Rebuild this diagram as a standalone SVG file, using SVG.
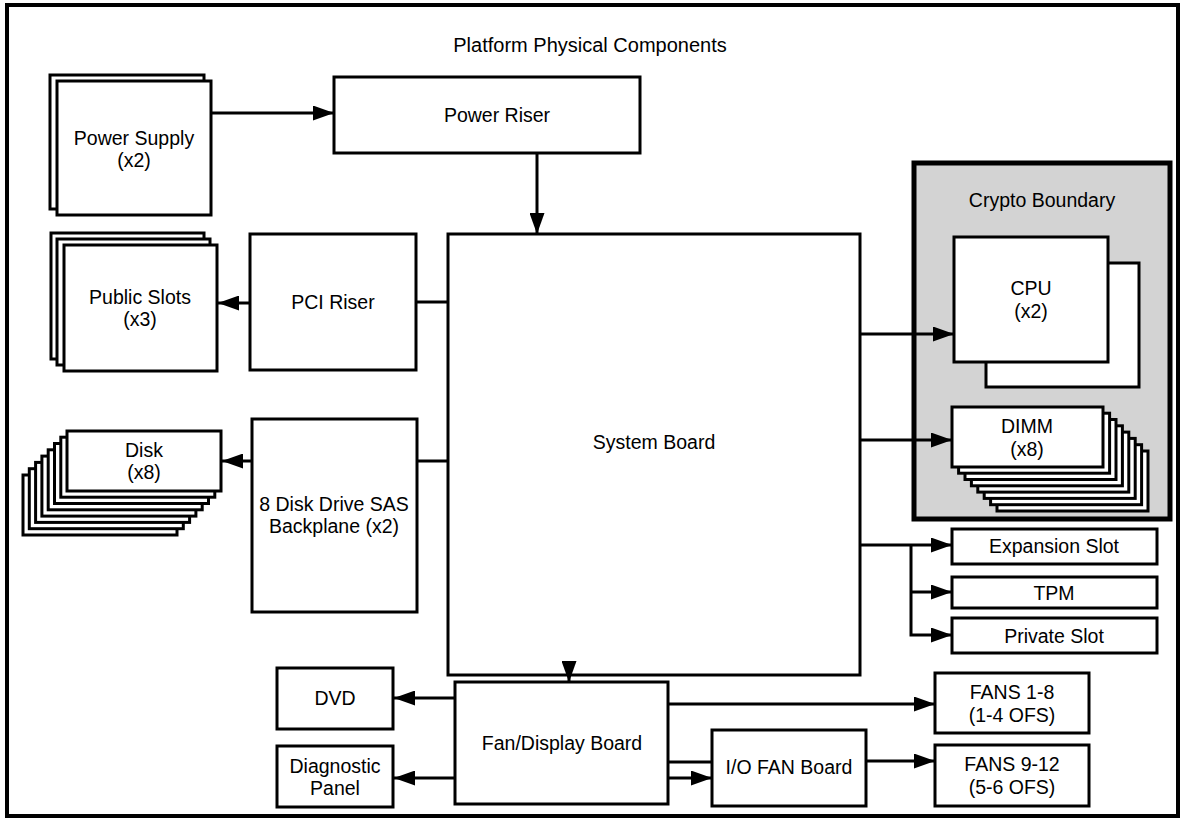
<svg xmlns="http://www.w3.org/2000/svg" width="1182" height="821" viewBox="0 0 1182 821">
<style>
.box{fill:#fff;stroke:#000;stroke-width:3}
.t{font-family:"Liberation Sans",Arial,sans-serif;font-size:19.5px;fill:#000;text-anchor:middle}
.c{fill:none;stroke:#000;stroke-width:3}
</style>
<defs>
<marker id="ah" markerUnits="userSpaceOnUse" markerWidth="21" markerHeight="15" refX="21" refY="7.5" orient="auto">
<path d="M0,0 L21,7.5 L0,15 z" fill="#000"/>
</marker>
</defs>
<rect x="0" y="0" width="1182" height="821" fill="#fff"/>
<rect x="7" y="5" width="1171" height="811" fill="#fff" stroke="#000" stroke-width="4"/>
<text class="t" x="590" y="52" style="font-size:20px">Platform Physical Components</text>

<g id="crypto-boundary">
<rect x="914" y="163" width="256" height="356" fill="#d3d3d3" stroke="#000" stroke-width="5"/>
<text class="t" x="1042" y="207">Crypto Boundary</text>
</g>

<g id="power-supply">
<rect class="box" x="50" y="75" width="154" height="134"/>
<rect class="box" x="57" y="81" width="154" height="134"/>
<text class="t" x="134" y="145">Power Supply</text>
<text class="t" x="134" y="167">(x2)</text>
</g>

<g id="power-riser">
<rect class="box" x="334" y="77" width="306" height="76"/>
<text class="t" x="497" y="122">Power Riser</text>
</g>

<g id="public-slots">
<rect class="box" x="51" y="233" width="153" height="126"/>
<rect class="box" x="57" y="239" width="153" height="126"/>
<rect class="box" x="64" y="245" width="153" height="126"/>
<text class="t" x="140" y="304">Public Slots</text>
<text class="t" x="140" y="326">(x3)</text>
</g>

<g id="pci-riser">
<rect class="box" x="250" y="234" width="166" height="136"/>
<text class="t" x="333" y="309">PCI Riser</text>
</g>

<g id="disk">
<rect class="box" x="23" y="475" width="154" height="60"/>
<rect class="box" x="29.3" y="468.7" width="154" height="60"/>
<rect class="box" x="35.6" y="462.4" width="154" height="60"/>
<rect class="box" x="41.9" y="456.1" width="154" height="60"/>
<rect class="box" x="48.2" y="449.8" width="154" height="60"/>
<rect class="box" x="54.5" y="443.5" width="154" height="60"/>
<rect class="box" x="60.8" y="437.2" width="154" height="60"/>
<rect class="box" x="67" y="431" width="154" height="60"/>
<text class="t" x="144" y="457">Disk</text>
<text class="t" x="144" y="479">(x8)</text>
</g>

<g id="backplane">
<rect class="box" x="252" y="419" width="165" height="193"/>
<text class="t" x="334" y="511">8 Disk Drive SAS</text>
<text class="t" x="334" y="533">Backplane (x2)</text>
</g>

<g id="system-board">
<rect class="box" x="448" y="234" width="412" height="441"/>
<text class="t" x="654" y="449">System Board</text>
</g>

<g id="cpu">
<rect class="box" x="986" y="263" width="153" height="124"/>
<rect class="box" x="954" y="237" width="154" height="125"/>
<text class="t" x="1031" y="295">CPU</text>
<text class="t" x="1031" y="318">(x2)</text>
</g>

<g id="dimm">
<rect class="box" x="997" y="451" width="151" height="60"/>
<rect class="box" x="990.6" y="444.7" width="151" height="60"/>
<rect class="box" x="984.2" y="438.4" width="151" height="60"/>
<rect class="box" x="977.8" y="432.1" width="151" height="60"/>
<rect class="box" x="971.4" y="425.8" width="151" height="60"/>
<rect class="box" x="965" y="419.5" width="151" height="60"/>
<rect class="box" x="958.6" y="413.2" width="151" height="60"/>
<rect class="box" x="952" y="407" width="151" height="60"/>
<text class="t" x="1027" y="433">DIMM</text>
<text class="t" x="1027" y="456">(x8)</text>
</g>

<g id="expansion-slot">
<rect class="box" x="952" y="529" width="205" height="35"/>
<text class="t" x="1054" y="553">Expansion Slot</text>
</g>
<g id="tpm">
<rect class="box" x="952" y="577" width="205" height="31"/>
<text class="t" x="1054" y="600">TPM</text>
</g>
<g id="private-slot">
<rect class="box" x="952" y="618" width="205" height="35"/>
<text class="t" x="1054" y="643">Private Slot</text>
</g>

<g id="dvd">
<rect class="box" x="277" y="668" width="116" height="61"/>
<text class="t" x="335" y="705">DVD</text>
</g>
<g id="diagnostic-panel">
<rect class="box" x="277" y="746" width="116" height="61"/>
<text class="t" x="335" y="773">Diagnostic</text>
<text class="t" x="335" y="795">Panel</text>
</g>

<g id="fan-display-board">
<rect class="box" x="455" y="682" width="213" height="122"/>
<text class="t" x="562" y="750">Fan/Display Board</text>
</g>

<g id="io-fan-board">
<rect class="box" x="712" y="730" width="154" height="76"/>
<text class="t" x="789" y="774">I/O FAN Board</text>
</g>

<g id="fans-1-8">
<rect class="box" x="935" y="673" width="154" height="60"/>
<text class="t" x="1012" y="699">FANS 1-8</text>
<text class="t" x="1012" y="722">(1-4 OFS)</text>
</g>
<g id="fans-9-12">
<rect class="box" x="935" y="745" width="154" height="61"/>
<text class="t" x="1012" y="771">FANS 9-12</text>
<text class="t" x="1012" y="794">(5-6 OFS)</text>
</g>

<g id="connectors">
<path class="c" d="M212,113 H334" marker-end="url(#ah)"/>
<path class="c" d="M537,153 V234" marker-end="url(#ah)"/>
<path class="c" d="M250,303 H218" marker-end="url(#ah)"/>
<path class="c" d="M416,302 H448"/>
<path class="c" d="M252,461 H222" marker-end="url(#ah)"/>
<path class="c" d="M417,461 H448"/>
<path class="c" d="M860,334 H954" marker-end="url(#ah)"/>
<path class="c" d="M860,440 H952" marker-end="url(#ah)"/>
<path class="c" d="M860,545 H952" marker-end="url(#ah)"/>
<path class="c" d="M911,545 V635 H952" marker-end="url(#ah)"/>
<path class="c" d="M911,592 H952" marker-end="url(#ah)"/>
<path class="c" d="M569,675 V682" marker-end="url(#ah)"/>
<path class="c" d="M455,698 H394" marker-end="url(#ah)"/>
<path class="c" d="M455,778 H394" marker-end="url(#ah)"/>
<path class="c" d="M668,704 H935" marker-end="url(#ah)"/>
<path class="c" d="M668,762 H712"/>
<path class="c" d="M668,778 H712" marker-end="url(#ah)"/>
<path class="c" d="M866,761 H935" marker-end="url(#ah)"/>
</g>
</svg>
